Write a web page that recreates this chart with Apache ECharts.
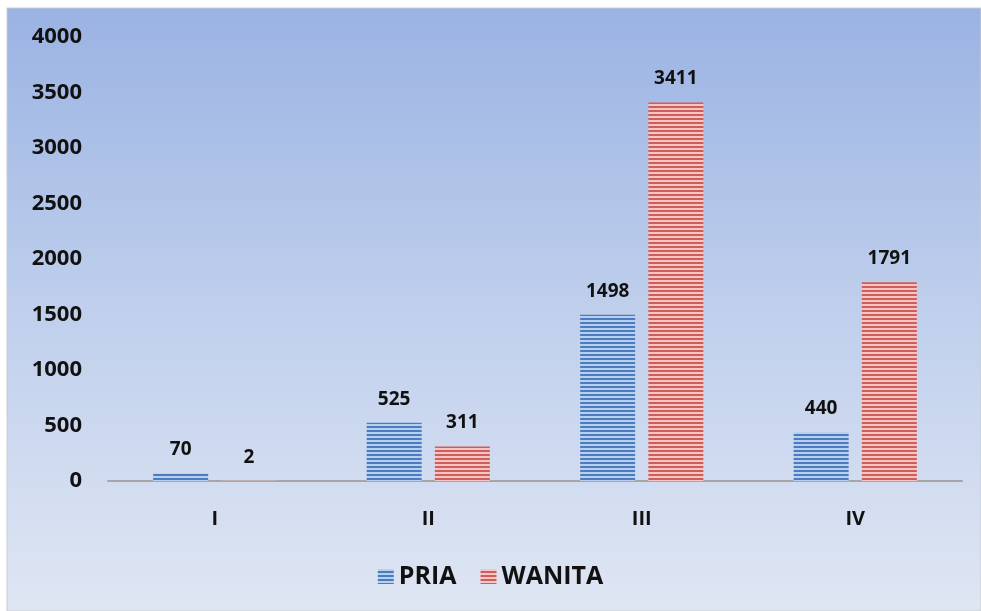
<!DOCTYPE html>
<html>
<head>
<meta charset="utf-8">
<script src="https://cdn.jsdelivr.net/npm/echarts@6/dist/echarts.min.js"></script>
<style>
  html, body { margin: 0; padding: 0; background: #fff; }
  #chart { width: 981px; height: 611px; }
</style>
</head>
<body>
<div id="chart"></div>
<script>
var categories = ['I', 'II', 'III', 'IV']
var pria = [70, 525, 1498, 440]
var wanita = [2, 311, 3411, 1791]
var yTicks = [0, 500, 1000, 1500, 2000, 2500, 3000, 3500, 4000]

// horizontal stripe fill like the original bars
function stripes (dark, light) {
  var c = document.createElement('canvas')
  c.width = 4
  c.height = 4
  var ctx = c.getContext('2d')
  ctx.fillStyle = light
  ctx.fillRect(0, 0, 4, 2)
  ctx.fillStyle = dark
  ctx.fillRect(0, 2, 4, 2)
  return { image: c, repeat: 'repeat' }
}

var chart = echarts.init(document.getElementById('chart'))
var font = '"Open Sans", "Liberation Sans", sans-serif'

var option = {
  backgroundColor: '#ffffff',
  animation: false,
  graphic: [{
    type: 'rect',
    z: -10,
    silent: true,
    shape: { x: 7, y: 8, width: 974, height: 603 },
    style: {
      fill: new echarts.graphic.LinearGradient(0, 0, 0, 1, [
        { offset: 0, color: '#9bb3e3' },
        { offset: 0.5, color: '#bfcfec' },
        { offset: 1, color: '#dfe6f3' }
      ]),
      stroke: '#c8ccd2',
      lineWidth: 1
    }
  }],
  grid: { left: 108, right: 19, top: 37, bottom: 130 },
  legend: {
    bottom: 17,
    left: 'center',
    icon: 'rect',
    itemWidth: 16,
    itemHeight: 15,
    itemGap: 24,
    textStyle: { fontFamily: font, fontWeight: 'bold', fontSize: 25, color: '#111' },
    data: ['PRIA', 'WANITA']
  },
  xAxis: {
    type: 'category',
    data: categories,
    axisLine: { lineStyle: { color: '#a6a6a6', width: 2 } },
    axisTick: { show: false },
    axisLabel: { margin: 28, fontFamily: font, fontWeight: 'bold', fontSize: 20, color: '#111' }
  },
  yAxis: {
    type: 'value',
    min: yTicks[0],
    max: yTicks[yTicks.length - 1],
    interval: 500,
    splitLine: { show: false },
    axisLine: { show: false },
    axisLabel: {
      margin: 26, fontFamily: font, fontWeight: 'bold', fontSize: 22, color: '#111',
      formatter: function (v) { return String(v) }
    }
  },
  series: [
    {
      name: 'PRIA',
      type: 'bar',
      barWidth: 55,
      barGap: '24%',
      itemStyle: { color: stripes('#4a7cbf', '#b9cfee') },
      label: {
        show: true, position: 'top', distance: 14,
        fontFamily: font, fontWeight: 'bold', fontSize: 19, color: '#111'
      },
      data: pria
    },
    {
      name: 'WANITA',
      type: 'bar',
      barWidth: 55,
      barGap: '24%',
      itemStyle: { color: stripes('#cd5e5c', '#f6c4c3') },
      label: {
        show: true, position: 'top', distance: 14,
        fontFamily: font, fontWeight: 'bold', fontSize: 19, color: '#111'
      },
      data: wanita
    }
  ]
}
chart.setOption(option)
</script>
</body>
</html>
